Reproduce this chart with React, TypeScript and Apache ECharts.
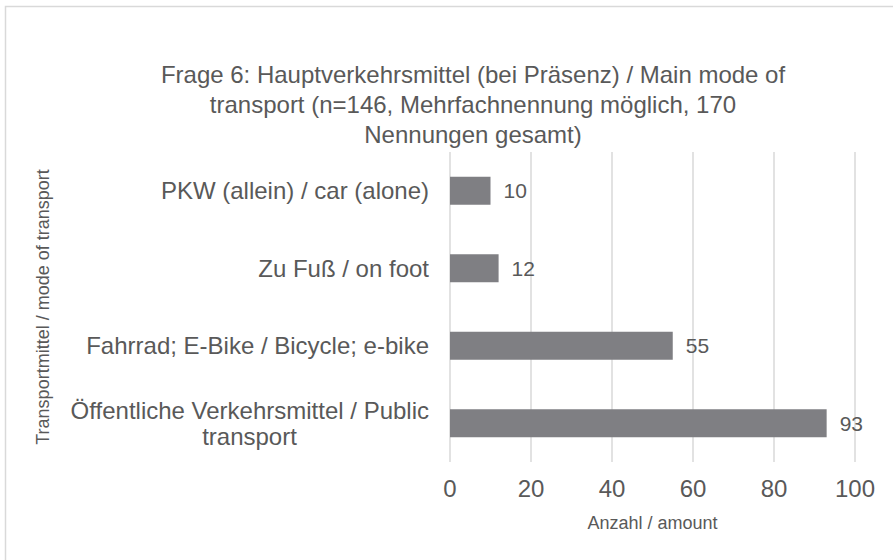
import React, { useEffect, useRef } from "react";
import * as echarts from "echarts";

const categories = [
  "Öffentliche Verkehrsmittel / Public\ntransport",
  "Fahrrad; E-Bike / Bicycle; e-bike",
  "Zu Fuß / on foot",
  "PKW (allein) / car (alone)",
];
const values = [93, 55, 12, 10];
const xTicks = [0, 20, 40, 60, 80, 100];
const titleText =
  "Frage 6: Hauptverkehrsmittel (bei Präsenz) / Main mode of\ntransport (n=146, Mehrfachnennung möglich, 170\nNennungen gesamt)";
const xName = "Anzahl / amount";
const yName = "Transportmittel / mode of transport";

export default function App() {
  const ref = useRef<HTMLDivElement>(null);
  useEffect(() => {
    document.body.style.margin = "0";
    const chart = echarts.init(ref.current!, null, { renderer: "svg" });
    const font = "Arial, 'Liberation Sans', sans-serif";
    chart.setOption({
      animation: false,
      backgroundColor: "#ffffff",
      textStyle: { fontFamily: font },
      graphic: [
        {
          type: "rect",
          shape: { x: 5.5, y: 6.5, width: 950, height: 650 },
          style: { fill: "none", stroke: "#d9d9d9", lineWidth: 1.5 },
          silent: true,
        },
      ],
      title: {
        text: titleText,
        left: 468,
        top: 54,
        textAlign: "center",
        textStyle: {
          color: "#595959",
          fontSize: 24,
          fontWeight: "normal",
          lineHeight: 30,
          fontFamily: font,
        },
      },
      grid: { left: 450, right: 38, top: 152, bottom: 98, containLabel: false },
      xAxis: {
        type: "value",
        min: xTicks[0],
        max: xTicks[xTicks.length - 1],
        interval: 20,
        name: xName,
        nameLocation: "middle",
        nameGap: 52,
        nameTextStyle: { color: "#595959", fontSize: 18, fontFamily: font },
        axisLine: { show: false },
        axisTick: { show: false },
        axisLabel: { color: "#595959", fontSize: 24, margin: 14, fontFamily: font },
        splitLine: { show: true, lineStyle: { color: "#d9d9d9", width: 1.5 } },
      },
      yAxis: {
        type: "category",
        data: categories,
        name: yName,
        nameLocation: "middle",
        nameGap: 398,
        nameRotate: 90,
        nameTextStyle: { color: "#595959", fontSize: 18, fontFamily: font },
        axisLine: { show: false },
        axisTick: { show: false },
        axisLabel: {
          color: "#595959",
          fontSize: 24,
          margin: 21,
          lineHeight: 26,
          align: "right",
          fontFamily: font,
          formatter: (v: string) => {
            if (v.includes("\n")) {
              const [a, b] = v.split("\n");
              return a + "\n{c|" + b + "}";
            }
            return v;
          },
          rich: {
            c: {
              color: "#595959",
              fontSize: 24,
              lineHeight: 26,
              width: 359,
              align: "center",
              fontFamily: font,
            },
          },
        },
      },
      series: [
        {
          type: "bar",
          data: values,
          barWidth: 28,
          itemStyle: { color: "#7f7f83" },
          label: {
            show: true,
            position: "right",
            distance: 13,
            color: "#595959",
            fontSize: 21,
            fontFamily: font,
          },
        },
      ],
    });
    return () => chart.dispose();
  }, []);
  return <div ref={ref} style={{ width: 893, height: 560 }} />;
}
